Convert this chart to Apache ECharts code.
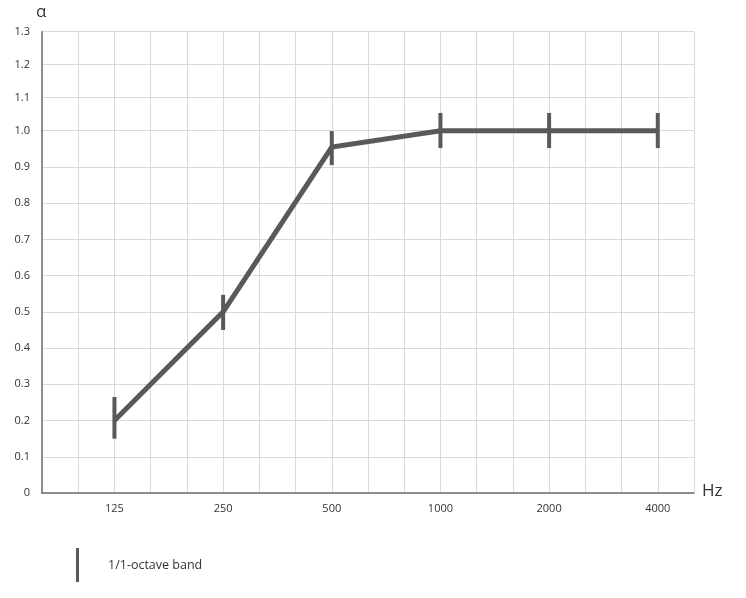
<!DOCTYPE html>
<html>
<head>
<meta charset="utf-8">
<script src="https://cdn.jsdelivr.net/npm/echarts@6/dist/echarts.min.js"></script>
<style>html,body{margin:0;padding:0;background:#fff}#c{width:746px;height:598px}</style>
</head>
<body>
<div id="c"></div>
<script>
// third-octave band grid (categories), octave labels shown
var bands = ['80','100','125','160','200','250','315','400','500','630','800','1000','1250','1600','2000','2500','3150','4000','5000'];
var octaveLabels = ['125','250','500','1000','2000','4000'];
var alphaValues = [0.20, 0.50, 0.955, 1.00, 1.00, 1.00];
var barLow  = [0.15, 0.45, 0.905, 0.952, 0.952, 0.952];
var barHigh = [0.265, 0.547, 0.999, 1.049, 1.049, 1.049];
var yTicksLow = [0, 1.0];
var yTicksHigh = [1.0, 1.3];

var FONT = 'Open Sans';
var LINE = '#595959';
var GRIDC = '#d9d9d9';
var AXC = '#6e6e6e';

var chart = echarts.init(document.getElementById('c'));
var lineData = octaveLabels.map(function (f, i) { return [f, alphaValues[i]]; });
var barData = octaveLabels.map(function (f, i) { return [f, barLow[i], barHigh[i]]; });

function xAxisCfg(gi, show) {
  return {
    type: 'category', gridIndex: gi, data: bands, boundaryGap: false,
    axisLine: { show: show, lineStyle: { color: AXC, width: 1.5 } },
    axisTick: { show: false },
    axisLabel: {
      show: show, margin: 10, color: '#333', fontFamily: FONT, fontSize: 11,
      interval: 0,
      formatter: function (v) { return octaveLabels.indexOf(v) >= 0 ? v : ''; }
    },
    splitLine: { show: true, lineStyle: { color: GRIDC, width: 1 } }
  };
}

chart.setOption({
  animation: false,
  grid: [
    { left: 42, right: 52, top: 31.7, height: 99 },
    { left: 42, right: 52, top: 130.7, bottom: 105 }
  ],
  xAxis: [xAxisCfg(0, false), xAxisCfg(1, true)],
  yAxis: [
    {
      type: 'value', gridIndex: 0, min: yTicksHigh[0], max: yTicksHigh[1], interval: 0.1,
      axisLine: { show: true, lineStyle: { color: AXC, width: 1.5 } },
      axisTick: { show: false },
      axisLabel: { showMinLabel: false, margin: 12, color: '#333', fontFamily: FONT, fontSize: 11,
        formatter: function (v) { return v.toFixed(1); } },
      splitLine: { show: true, lineStyle: { color: GRIDC, width: 1 } }
    },
    {
      type: 'value', gridIndex: 1, min: yTicksLow[0], max: yTicksLow[1], interval: 0.1,
      axisLine: { show: true, lineStyle: { color: AXC, width: 1.5 } },
      axisTick: { show: false },
      axisLabel: { margin: 12, color: '#333', fontFamily: FONT, fontSize: 11,
        formatter: function (v) { return v === 0 ? '0' : v.toFixed(1); } },
      splitLine: { show: true, lineStyle: { color: GRIDC, width: 1 } }
    }
  ],
  legend: {
    left: 76, top: 548, padding: 0, icon: 'rect', itemWidth: 3, itemHeight: 34,
    data: ['1/1-octave band'],
    textStyle: { color: '#333', fontFamily: FONT, fontSize: 12.5, padding: [0, 0, 0, 24] }
  },
  graphic: [
    { type: 'text', left: 36, top: 4, style: { text: 'α', fontFamily: FONT, fontSize: 17, fill: '#333' } },
    { type: 'text', left: 702, top: 483, style: { text: 'Hz', fontFamily: FONT, fontSize: 17, fill: '#333' } }
  ],
  series: [
    {
      type: 'line', xAxisIndex: 1, yAxisIndex: 1, data: lineData, clip: false,
      symbol: 'none', lineStyle: { color: LINE, width: 5, join: 'miter' }, z: 3
    },
    {
      name: '1/1-octave band', type: 'custom', xAxisIndex: 1, yAxisIndex: 1, clip: false,
      data: barData, itemStyle: { color: LINE }, z: 4,
      renderItem: function (params, api) {
        var p1 = api.coord([api.value(0), api.value(1)]);
        var p2 = api.coord([api.value(0), api.value(2)]);
        return { type: 'line', shape: { x1: p1[0], y1: p1[1], x2: p2[0], y2: p2[1] },
          style: { stroke: LINE, lineWidth: 4 } };
      },
      encode: { x: 0, y: [1, 2] }
    }
  ]
});
</script>
</body>
</html>
